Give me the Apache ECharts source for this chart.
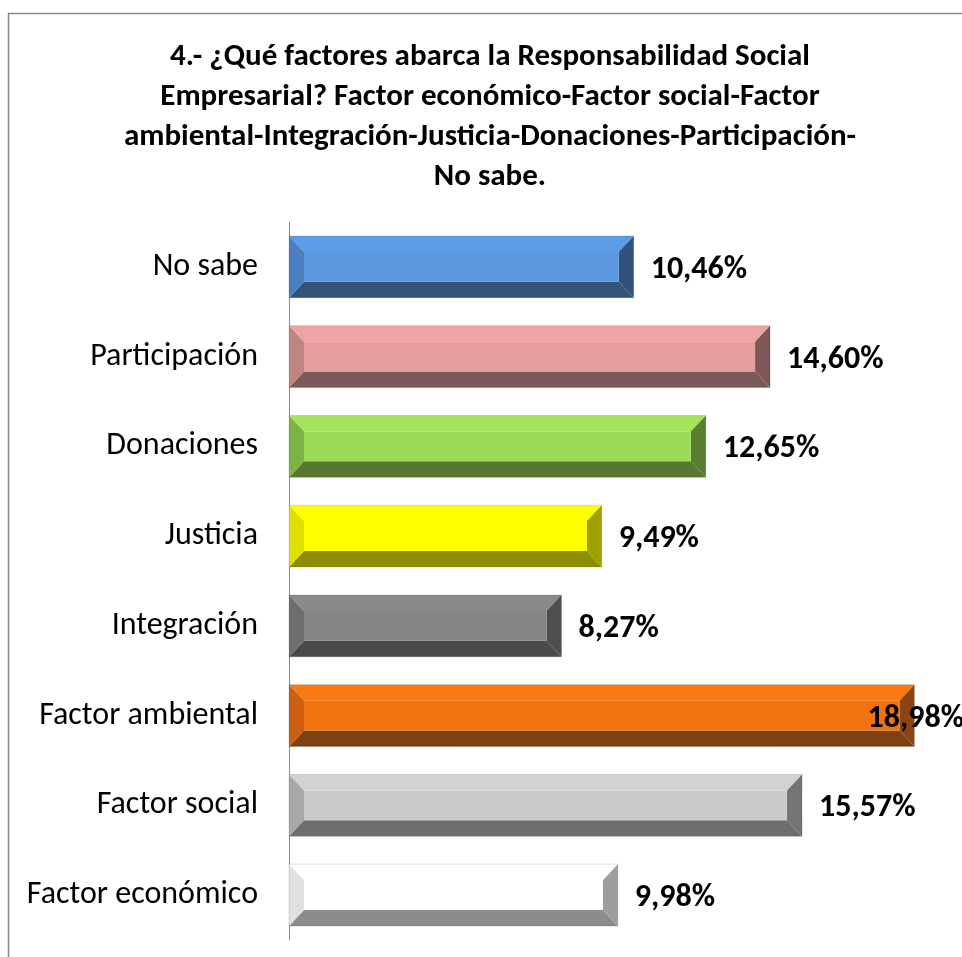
<!DOCTYPE html>
<html>
<head>
<meta charset="utf-8">
<script src="https://cdn.jsdelivr.net/npm/echarts@6/dist/echarts.min.js"></script>
<style>
  html, body { margin: 0; padding: 0; background: #fff; }
  #chart { width: 962px; height: 957px; }
</style>
</head>
<body>
<div id="chart"></div>
<script>
// categories listed bottom to top, as the category axis draws them
const categories = ['Factor económico', 'Factor social', 'Factor ambiental', 'Integración',
  'Justicia', 'Donaciones', 'Participación', 'No sabe'];
const values = [9.98, 15.57, 18.98, 8.27, 9.49, 12.65, 14.60, 10.46];

const titleLines = [
  '4.- ¿Qué factores abarca la Responsabilidad Social',
  'Empresarial? Factor económico-Factor social-Factor',
  'ambiental-Integración-Justicia-Donaciones-Participación-',
  'No sabe.'
];

// bevel palette per bar: top, face, left, right, bottom
const bevelColors = [
  ['#ffffff', '#ffffff', '#e0e0e0', '#9e9e9e', '#8c8c8c'],
  ['#d2d2d2', '#cbcbcb', '#a8a8a8', '#747474', '#6e6e6e'],
  ['#f97a10', '#f07310', '#cc6010', '#8a4510', '#804010'],
  ['#8a8a8a', '#858585', '#6e6e6e', '#4e4e4e', '#4a4a4a'],
  ['#ffff00', '#ffff00', '#e0e000', '#a0a000', '#8c8c08'],
  ['#a2e55c', '#9bdb58', '#7cb342', '#5a7e30', '#577732'],
  ['#efa3a2', '#e59e9d', '#c08583', '#7e5857', '#7a5957'],
  ['#5c9be8', '#5a97de', '#4a80c2', '#31527c', '#345378']
];

const FONT = 'Carlito, Lato, sans-serif';
const labelFont = 'bold 32px ' + FONT;

const measureCtx = document.createElement('canvas').getContext('2d');
function textWidth(str, font) {
  measureCtx.font = font;
  return measureCtx.measureText(str).width;
}

function renderBevelBar(params, api) {
  const v = api.value(0);
  const idx = api.value(1);
  const start = api.coord([0, idx]);
  const end = api.coord([v, idx]);
  const h = api.size([0, 1])[1] * 0.69;
  const x0 = start[0], x1 = end[0];
  const y0 = start[1] - h / 2, y1 = y0 + h;
  const bx = 15, by = 16;
  const c = bevelColors[idx];

  const label = v.toFixed(2).replace('.', ',') + '%';
  const tw = textWidth(label, labelFont);
  const chartW = api.getWidth();
  let lx = x1 + 17, align = 'left';
  if (lx + tw > chartW) { lx = chartW + 2; align = 'right'; }

  return {
    type: 'group',
    children: [
      { type: 'polygon', shape: { points: [[x0, y0], [x1, y0], [x1 - bx, y0 + by], [x0 + bx, y0 + by]] }, style: { fill: c[0] } },
      { type: 'polygon', shape: { points: [[x0, y1], [x1, y1], [x1 - bx, y1 - by], [x0 + bx, y1 - by]] }, style: { fill: c[4] } },
      { type: 'polygon', shape: { points: [[x0, y0], [x0 + bx, y0 + by], [x0 + bx, y1 - by], [x0, y1]] }, style: { fill: c[2] } },
      { type: 'polygon', shape: { points: [[x1, y0], [x1 - bx, y0 + by], [x1 - bx, y1 - by], [x1, y1]] }, style: { fill: c[3] } },
      { type: 'rect', shape: { x: x0 + bx, y: y0 + by, width: x1 - x0 - 2 * bx, height: h - 2 * by }, style: { fill: c[1] } },
      { type: 'rect', shape: { x: x0, y: y0, width: x1 - x0, height: h }, style: { fill: null, stroke: 'rgba(0,0,0,0.12)', lineWidth: 1 } },
      {
        type: 'text', z2: 10,
        style: { x: lx, y: start[1] + 3, text: label, font: labelFont, fill: '#000', align: align, verticalAlign: 'middle' }
      }
    ]
  };
}

const chart = echarts.init(document.getElementById('chart'));

chart.setOption({
  animation: false,
  backgroundColor: '#fff',
  title: {
    text: titleLines.join('\n'),
    left: 485,
    top: 32,
    textAlign: 'center',
    textStyle: { fontFamily: FONT, fontWeight: 'bold', fontSize: 31, lineHeight: 40, color: '#000' }
  },
  graphic: [
    { type: 'rect', shape: { x: 8.5, y: 13.5, width: 1100, height: 1100 }, style: { fill: null, stroke: '#888', lineWidth: 1.5 }, z: -1 }
  ],
  grid: { left: 289, right: 14, top: 222, bottom: 17 },
  xAxis: { type: 'value', min: 0, max: 20, show: false },
  yAxis: {
    type: 'category',
    data: categories,
    axisLine: { show: true, lineStyle: { color: '#888', width: 1 } },
    axisTick: { show: false },
    axisLabel: { margin: 31, fontFamily: FONT, fontSize: 32, color: '#000', padding: [5, 0, 0, 0] }
  },
  series: [{
    type: 'custom',
    renderItem: renderBevelBar,
    encode: { x: 0, y: 1 },
    data: values.map((v, i) => [v, i])
  }]
});
</script>
</body>
</html>
